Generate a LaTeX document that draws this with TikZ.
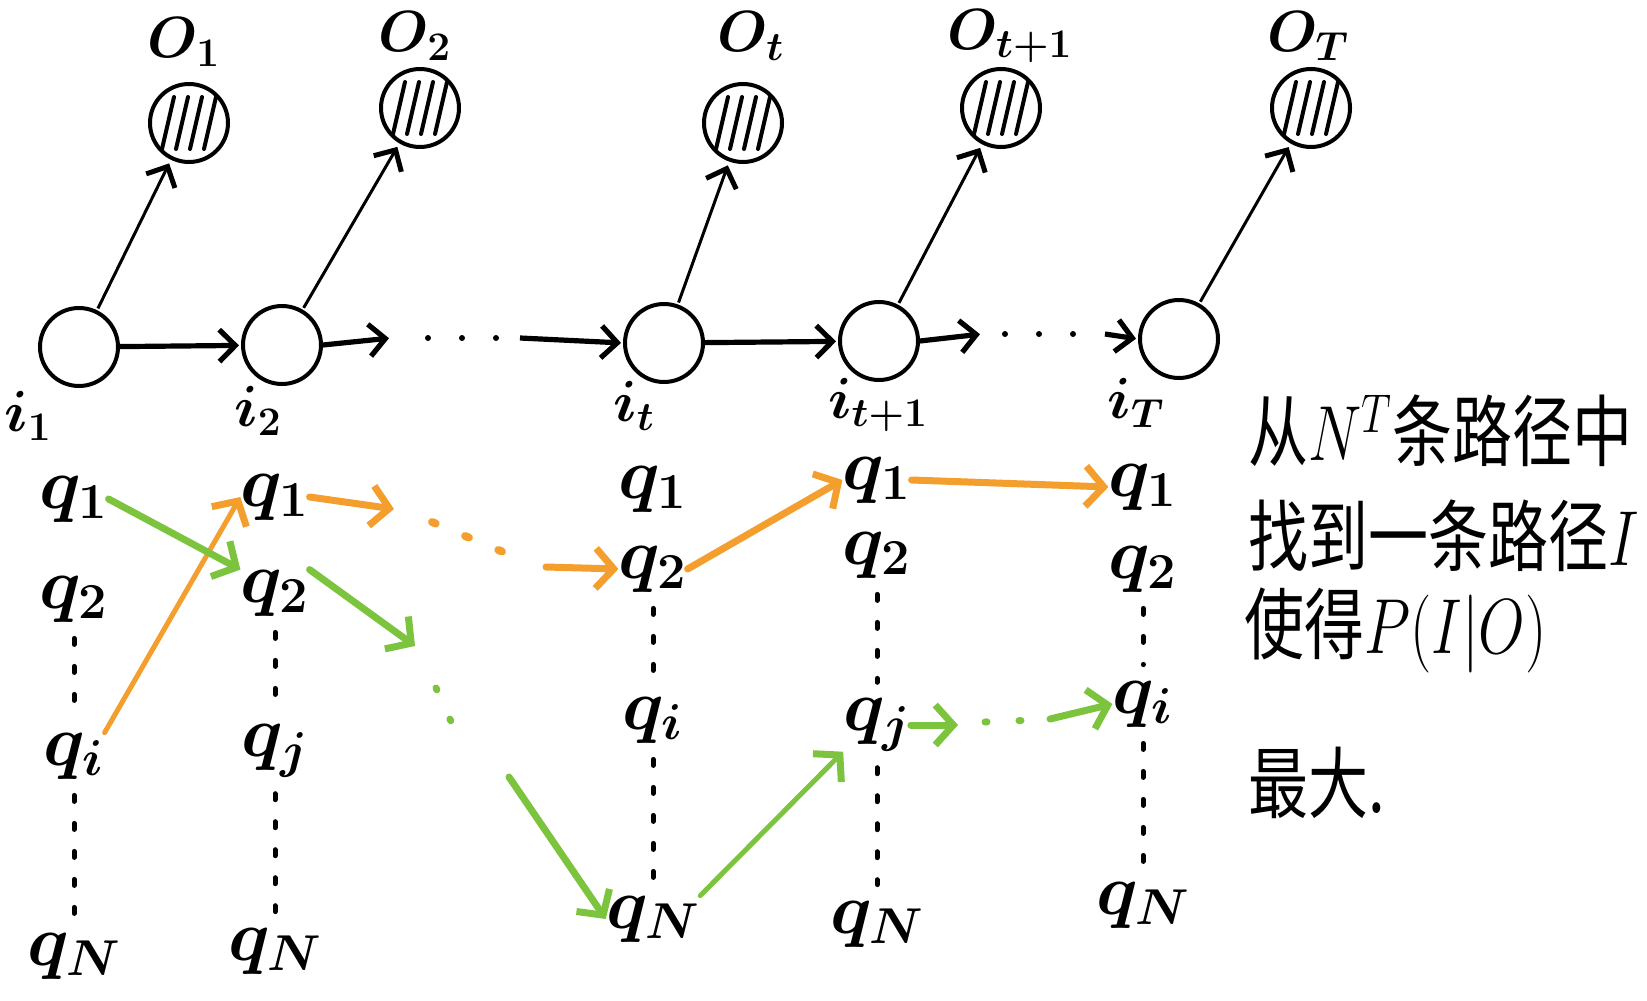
\RequirePackage{fix-cm}
\documentclass[tikz,border=0pt]{standalone}
\usepackage{fontspec}
\newfontfamily\cjk{Noto Sans CJK SC}
\usetikzlibrary{arrows.meta}
\definecolor{orng}{RGB}{243,158,45}
\definecolor{grn}{RGB}{125,196,62}
\newcommand{\cnline}[1]{\scalebox{1}[1.3]{#1}}
\tikzset{
  hid/.style={circle, draw, line width=2pt, minimum size=39pt, inner sep=0pt, fill=white},
  obs/.style={circle, draw, line width=2pt, minimum size=39pt, inner sep=0pt, fill=white,
    path picture={\foreach \k in {-10.5,-3.5,3.5,10.5}{
      \draw[line width=2pt, line cap=round]
        ([shift={({\k*1pt-3pt},-13pt)}]path picture bounding box.center) --
        ([shift={({\k*1pt+3pt},13pt)}]path picture bounding box.center);}}},
  olab/.style={font=\fontsize{29}{34}\selectfont\boldmath, inner sep=0pt},
  lab/.style={font=\fontsize{29}{34}\selectfont\boldmath, inner sep=0pt},
  qlab/.style={font=\fontsize{36}{42}\selectfont\boldmath, inner sep=0pt},
  cn/.style={font=\cjk\fontsize{30}{36}\selectfont, inner sep=0pt, anchor=west},
  emit/.style={line width=1.5pt, shorten >=2pt, shorten <=1pt,
    -{Straight Barb[length=8pt, width=16pt, line width=2.5pt]}},
  trans/.style={line width=2.6pt, shorten >=1pt,
    -{Straight Barb[length=8pt, width=16pt, line width=2.6pt]}},
  hdots/.style={line width=3pt, line cap=round, dash pattern=on 0pt off 17pt},
  vdots/.style={line width=2.5pt, line cap=round, dash pattern=on 3pt off 11pt,
    shorten <=8pt, shorten >=8pt},
  opath/.style={draw=orng, line width=3.5pt, line cap=round,
    -{Straight Barb[length=9pt, width=20pt, line width=3.5pt]}},
  gpath/.style={draw=grn, line width=3.5pt, line cap=round,
    -{Straight Barb[length=9pt, width=20pt, line width=3.5pt]}},
  odots/.style={draw=orng, line width=4pt, line cap=round, dash pattern=on 2pt off 16pt},
  gdots/.style={draw=grn, line width=3.5pt, line cap=round, dash pattern=on 1pt off 16pt},
}
\begin{document}
\begin{tikzpicture}[x=0.5pt, y=-0.5pt]
\useasboundingbox (0,0) rectangle (1647,1000);

% hidden states
\node[hid] (i1) at (79,347) {};
\node[hid] (i2) at (282,345) {};
\node[hid] (it) at (664,343) {};
\node[hid] (it1) at (879,341) {};
\node[hid] (iT) at (1179,339) {};

% observations
\node[obs] (O1) at (189,123) {};
\node[obs] (O2) at (420,108) {};
\node[obs] (Ot) at (743,123) {};
\node[obs] (Ot1) at (1001,108) {};
\node[obs] (OT) at (1311,108) {};

% observation labels
\node[olab] (lO1) at (184,42) {$O_1$};
\node[olab] (lO2) at (415,36) {$O_2$};
\node[olab] (lOt) at (751,36) {$O_t$};
\node[olab] (lOt1) at (1010,36) {$O_{t{+}1}$};
\node[olab] (lOT) at (1308,36) {$O_T$};

% hidden labels
\node[lab, anchor=west] (li1) at (4,416) {$i_1$};
\node[lab] (li2) at (258,411) {$i_2$};
\node[lab] (lit) at (634,406) {$i_t$};
\node[lab] (lit1) at (878,405) {$i_{t{+}1}$};
\node[lab] (liT) at (1136,403) {$i_T$};

% emission arrows
\draw[emit] (i1) -- (O1);
\draw[emit] (i2) -- (O2);
\draw[emit] (it) -- (Ot);
\draw[emit] (it1) -- (Ot1);
\draw[emit] (iT) -- (OT);

% transitions
\coordinate (h1) at (391,338);
\coordinate (hd1) at (428,338);
\coordinate (hd2) at (500,338);
\coordinate (h2) at (520,338);
\coordinate (h3) at (982,334);
\coordinate (hd3) at (1005,334);
\coordinate (hd4) at (1090,334);
\coordinate (h4) at (1105,334);
\draw[trans] (i1) -- (i2);
\draw[trans] (i2.east) -- (h1);
\draw[hdots] (hd1) -- (hd2);
\draw[trans] (h2) -- (it.west);
\draw[trans] (it) -- (it1);
\draw[trans] (it1.east) -- (h3);
\draw[hdots] (hd3) -- (hd4);
\draw[trans] (h4) -- (iT.west);

% state columns
\node[qlab] (c1q1) at (74,499) {$q_1$};
\node[qlab] (c1q2) at (74,599) {$q_2$};
\node[qlab] (c1qi) at (74,756) {$q_i$};
\node[qlab] (c1qN) at (74,956) {$q_N$};

\node[qlab] (c2q1) at (275,497) {$q_1$};
\node[qlab] (c2q2) at (275,593) {$q_2$};
\node[qlab] (c2qj) at (275,751) {$q_j$};
\node[qlab] (c2qN) at (275,951) {$q_N$};

\node[qlab] (c3q1) at (653,489) {$q_1$};
\node[qlab] (c3q2) at (653,569) {$q_2$};
\node[qlab] (c3qi) at (653,720) {$q_i$};
\node[qlab] (c3qN) at (653,919) {$q_N$};

\node[qlab] (c4q1) at (877,480) {$q_1$};
\node[qlab] (c4q2) at (877,555) {$q_2$};
\node[qlab] (c4qj) at (877,725) {$q_j$};
\node[qlab] (c4qN) at (877,924) {$q_N$};

\node[qlab] (c5q1) at (1143,487) {$q_1$};
\node[qlab] (c5q2) at (1143,569) {$q_2$};
\node[qlab] (c5qi) at (1143,704) {$q_i$};
\node[qlab] (c5qN) at (1143,905) {$q_N$};

% vertical dots
\foreach \c/\m in {c1/i, c2/j, c3/i, c4/j, c5/i}{
  \draw[vdots] (\c q2) -- (\c q\m);
  \draw[vdots] (\c q\m) -- (\c qN);
}

% orange path
\coordinate (o1) at (394,509);
\coordinate (od1) at (432,522);
\coordinate (od2) at (515,557);
\coordinate (o2) at (546,567);
\draw[opath, line width=2.5pt] (c1qi.north east) -- (c2q1.west);
\draw[opath] (c2q1.east) -- (o1);
\draw[odots] (od1) -- (od2);
\draw[opath] (o2) -- (c3q2.west);
\draw[opath] (c3q2.east) -- (c4q1.west);
\draw[opath] (c4q1.east) -- (c5q1.west);

% green path
\coordinate (g1) at (415,646);
\coordinate (gd1) at (436,688);
\coordinate (gd2) at (462,746);
\coordinate (g2) at (509,777);
\coordinate (g3) at (958,725);
\coordinate (gd3) at (985,722);
\coordinate (gd4) at (1035,720);
\coordinate (g4) at (1050,719);
\draw[gpath] (c1q1.east) -- (c2q2.north west);
\draw[gpath] (c2q2.north east) -- (g1);
\draw[gdots] (gd1) -- (gd2);
\draw[gpath] (g2) -- (c3qN.west);
\draw[gpath, line width=2.5pt] (c3qN.north east) -- (c4qj.south west);
\draw[gpath] (c4qj.east) -- (g3);
\draw[gdots] (gd3) -- (gd4);
\draw[gpath] (g4) -- (c5qi.west);

% text
\node[cn] (t1) at (1248,431) {\cnline{从$N^{T}$条路径中}};
\node[cn] (t2) at (1248,536) {\cnline{找到一条路径$I$}};
\node[cn] (t3) at (1244,630) {\cnline{使得$P(I|O)$}};
\node[cn] (t4) at (1248,783) {\cnline{最大.}};
\end{tikzpicture}
\end{document}
